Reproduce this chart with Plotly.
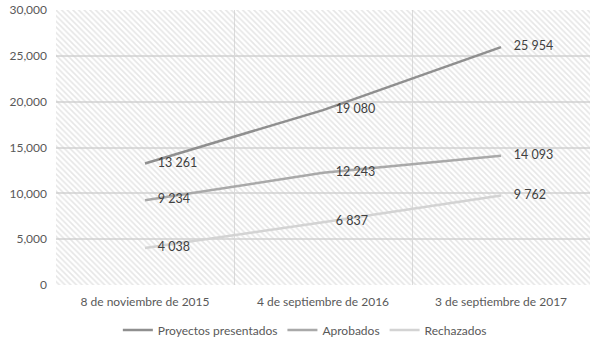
import plotly.graph_objects as go

categories = ["8 de noviembre de 2015", "4 de septiembre de 2016", "3 de septiembre de 2017"]
presentados = [13261, 19080, 25954]
aprobados = [9234, 12243, 14093]
rechazados = [4038, 6837, 9762]
series_names = ["Proyectos presentados", "Aprobados", "Rechazados"]
series_colors = ["#8f8f8f", "#a9a9a9", "#d3d3d3"]
y_ticks = [0, 5000, 10000, 15000, 20000, 25000, 30000]

xs = list(range(len(categories)))

def fmt(v):
    return f"{v:,}".replace(",", " ")

fig = go.Figure()

# hatched plot background
fig.add_trace(go.Bar(
    x=[1], y=[30000], width=[3],
    marker=dict(color="rgba(0,0,0,0)", line=dict(width=0),
                pattern=dict(shape="\\", fgcolor="#cdcdcd", bgcolor="rgba(0,0,0,0)",
                             size=4, solidity=0.4, fillmode="overlay")),
    showlegend=False, hoverinfo="skip",
))

for name, vals, col in zip(series_names, [presentados, aprobados, rechazados], series_colors):
    fig.add_trace(go.Scatter(
        x=xs, y=vals, name=name, mode="lines+text",
        line=dict(color=col, width=2.5),
        text=["    " + fmt(v) for v in vals], textposition="middle right",
        textfont=dict(size=12.5, color="#404040", family="Lato"),
    ))

fig.update_layout(
    width=590, height=351,
    margin=dict(l=56, r=0, t=10, b=66),
    plot_bgcolor="white", paper_bgcolor="white",
    font=dict(family="Lato", size=12, color="#595959"),
    bargap=0,
    legend=dict(orientation="h", x=0.466, xanchor="center", y=-0.164, yanchor="middle",
                font=dict(size=12, color="#595959"), itemwidth=30),
    xaxis=dict(range=[-0.5, 2.5], tickvals=xs, ticktext=categories, showgrid=False,
               zeroline=False, showline=False, ticks="", ticklabelstandoff=8,
               minor=dict(tickvals=[0.5, 1.5], showgrid=True, gridcolor="#dcdcdc", gridwidth=1)),
    yaxis=dict(range=[0, 30000], tickvals=y_ticks, tickformat=",", showgrid=True,
               gridcolor="#dcdcdc", gridwidth=1.5, zeroline=False, showline=False, ticks="",
               ticklabelstandoff=8),
)

fig.write_html("out.html")
